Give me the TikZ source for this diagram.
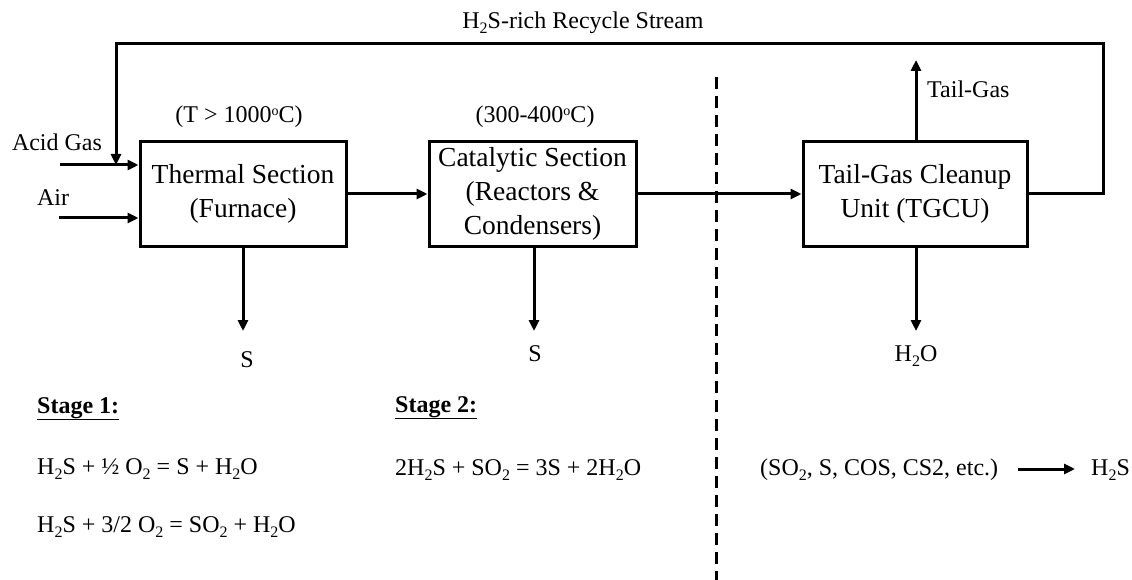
\documentclass[tikz,border=0pt]{standalone}
\usepackage{fontspec}
\setmainfont{Liberation Serif}
\usetikzlibrary{arrows.meta}
\newcommand{\sub}[1]{\raisebox{-5pt}{\fontsize{16}{16}\selectfont #1}}
\newcommand{\degc}{\raisebox{7pt}{\fontsize{14}{14}\selectfont o}C}
\begin{document}
\begin{tikzpicture}[x=1pt,y=-1pt,
  flow/.style={line width=3pt,-{Triangle[length=11pt,width=10pt]}},
  unitbox/.style={draw,line width=3pt,minimum width=206pt,minimum height=104pt,
    align=center,inner sep=0pt,font=\fontsize{27.5}{34}\selectfont},
  lbl/.style={inner sep=0pt,font=\fontsize{24}{29}\selectfont},
  divider/.style={line width=3pt,dash pattern=on 12pt off 7pt}]
\useasboundingbox (0,0) rectangle (1132,580);

% process units
\node[unitbox] (thermal) at (243,194) {Thermal Section\\(Furnace)};
\node[unitbox,minimum width=207pt] (cat) at (532.5,194) {Catalytic Section\\(Reactors \&\\Condensers)};
\node[unitbox,minimum width=224pt] (tgcu) at (915,194) {Tail-Gas Cleanup\\Unit (TGCU)};

% temperature labels
\node[lbl,anchor=base] (tlab1) at (239,123) {(T > 1000\degc)};
\node[lbl,anchor=base] (tlab2) at (535,123) {(300-400\degc)};

% feeds
\coordinate (acidin) at (60,165);
\coordinate (airin) at (59,218);
\node[lbl,anchor=base] (acid) at (57,151) {Acid Gas};
\node[lbl,anchor=base] (air) at (53,205) {Air};
\draw[flow] (acidin) -- (thermal.west |- acidin);
\draw[flow] (airin) -- (thermal.west |- airin);

% main train
\draw[flow] (thermal.east) -- (cat.west);
\draw[flow] (cat.east) -- (tgcu.west);

% recycle loop
\coordinate (rtr) at (1103,44);
\coordinate (rtl) at (116,44);
\coordinate (rend) at (116,165);
\draw[flow] (tgcu.east) -| (rtr) -- (rtl) -- (rend);
\node[lbl,anchor=base] (recycle) at (583,29) {H\sub{2}S-rich Recycle Stream};

% tail gas
\coordinate (tgout) at (916,60);
\draw[flow] (tgcu.north -| tgout) -- (tgout);
\node[lbl,anchor=base west] (tailgas) at (927,98) {Tail-Gas};

% product streams
\coordinate (s1) at (243,331);
\coordinate (s2) at (534,331);
\coordinate (w3) at (916,331);
\draw[flow] (thermal.south -| s1) -- (s1);
\draw[flow] (cat.south -| s2) -- (s2);
\draw[flow] (tgcu.south -| w3) -- (w3);
\node[lbl,anchor=base] (sout1) at (247,367) {S};
\node[lbl,anchor=base] (sout2) at (535,361) {S};
\node[lbl,anchor=base] (wout) at (916,361) {H\sub{2}O};

% section divider
\coordinate (dtop) at (716,77);
\coordinate (dbot) at (716,580);
\draw[divider] (dtop) -- (dbot);

% reactions
\node[lbl,anchor=base west,font=\fontsize{24}{29}\selectfont\bfseries] (st1) at (37,413) {\underline{Stage 1:}};
\node[lbl,anchor=base west] (r1) at (37,474) {H\sub{2}S + ½ O\sub{2} = S + H\sub{2}O};
\node[lbl,anchor=base west] (r2) at (37,532) {H\sub{2}S + 3/2 O\sub{2} = SO\sub{2} + H\sub{2}O};
\node[lbl,anchor=base west,font=\fontsize{24}{29}\selectfont\bfseries] (st2) at (395,412) {\underline{Stage 2:}};
\node[lbl,anchor=base west] (r3) at (395,475) {2H\sub{2}S + SO\sub{2} = 3S + 2H\sub{2}O};
\node[lbl,anchor=base west] (r4in) at (760,475) {(SO\sub{2}, S, COS, CS2, etc.)};
\node[lbl,anchor=base west] (r4out) at (1091,475) {H\sub{2}S};
\coordinate (r4a) at (1018,469);
\coordinate (r4b) at (1075,469);
\draw[flow] (r4a) -- (r4b);
\end{tikzpicture}
\end{document}
